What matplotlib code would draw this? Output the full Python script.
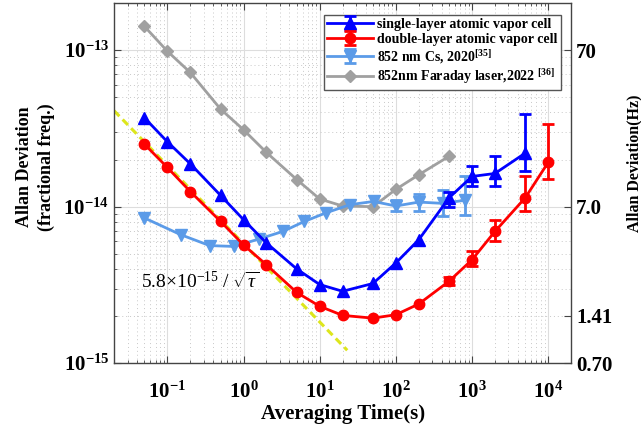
import numpy as np
import matplotlib
matplotlib.use("Agg")
import matplotlib.pyplot as plt
from matplotlib.ticker import LogLocator, NullLocator, NullFormatter

plt.rcParams['font.family'] = ['Liberation Serif', 'DejaVu Serif']
plt.rcParams['mathtext.fontset'] = 'custom'
plt.rcParams['mathtext.rm'] = 'Liberation Serif'
plt.rcParams['mathtext.it'] = 'Liberation Serif:italic'
plt.rcParams['mathtext.bf'] = 'Liberation Serif:bold'

# single-layer atomic vapor cell
tau_single = [0.05, 0.1, 0.2, 0.5, 1, 2, 5, 10, 20, 50, 100, 200, 500, 1000, 2000, 5000]
adev_single = [3.7e-14, 2.6e-14, 1.88e-14, 1.18e-14, 8.26e-15, 5.86e-15, 4.0e-15, 3.18e-15,
               2.88e-15, 3.23e-15, 4.37e-15, 6.15e-15, 1.14e-14, 1.56e-14, 1.63e-14, 2.2e-14]
lo_single = [np.nan] * 12 + [1.0e-14, 1.35e-14, 1.36e-14, 1.68e-14]
hi_single = [np.nan] * 12 + [1.25e-14, 1.82e-14, 2.12e-14, 3.9e-14]

# double-layer atomic vapor cell
tau_double = [0.05, 0.1, 0.2, 0.5, 1, 2, 5, 10, 20, 50, 100, 200, 500, 1000, 2000, 5000, 10000]
adev_double = [2.51e-14, 1.78e-14, 1.25e-14, 8.05e-15, 5.7e-15, 4.25e-15, 2.83e-15, 2.31e-15,
               2.02e-15, 1.94e-15, 2.04e-15, 2.39e-15, 3.34e-15, 4.58e-15, 6.95e-15, 1.14e-14, 1.92e-14]
lo_double = [np.nan] * 12 + [3.15e-15, 4.16e-15, 6.0e-15, 9.33e-15, 1.5e-14]
hi_double = [np.nan] * 12 + [3.55e-15, 5.18e-15, 8.26e-15, 1.58e-14, 3.37e-14]

# 852 nm Cs, 2020
tau_cs = [0.05, 0.15, 0.36, 0.76, 1.6, 3.3, 6.3, 12, 25, 51, 100, 200, 410, 820]
adev_cs = [8.47e-15, 6.62e-15, 5.64e-15, 5.57e-15, 6.22e-15, 6.95e-15, 8.05e-15, 9.12e-15,
           1.03e-14, 1.08e-14, 1.01e-14, 1.07e-14, 1.05e-14, 1.1e-14]
lo_cs = [np.nan] * 10 + [9.42e-15, 9.33e-15, 8.76e-15, 8.9e-15]
hi_cs = [np.nan] * 10 + [1.11e-14, 1.21e-14, 1.28e-14, 1.56e-14]

# 852nm Faraday laser, 2022
tau_far = [0.05, 0.1, 0.2, 0.5, 1, 2, 5, 10, 20, 50, 100, 200, 500]
adev_far = [1.42e-13, 9.85e-14, 7.2e-14, 4.2e-14, 3.1e-14, 2.22e-14, 1.49e-14, 1.12e-14,
            1.01e-14, 1.0e-14, 1.29e-14, 1.6e-14, 2.1e-14]

# white-noise guide line 5.8e-15/sqrt(tau)
tau_fit = [0.02, 23]
fit_coef = 5.8e-15

hz_scale = 7e14  # fractional -> Hz


def yerr(y, lo, hi):
    y = np.array(y)
    return [y - np.array(lo), np.array(hi) - y]


fig = plt.figure(figsize=(6.41, 4.36), dpi=100)
ax = fig.add_axes([0.178, 0.167, 0.713, 0.826])

tf = np.array(tau_fit)
ax.plot(tf, fit_coef / np.sqrt(tf), ls=(0, (2.5, 1.5)), color='#dde61c', lw=2.2, zorder=2)

h1 = ax.errorbar(tau_single, adev_single, yerr=yerr(adev_single, lo_single, hi_single),
                 color='#0000ff', marker='^', ms=8, lw=2, capsize=4, capthick=2, elinewidth=2,
                 label='single-layer atomic vapor cell', zorder=4)
h2 = ax.errorbar(tau_double, adev_double, yerr=yerr(adev_double, lo_double, hi_double),
                 color='#ff0000', marker='o', ms=7.5, lw=2, capsize=4, capthick=2, elinewidth=2,
                 label='double-layer atomic vapor cell', zorder=4)
h3 = ax.errorbar(tau_cs, adev_cs, yerr=yerr(adev_cs, lo_cs, hi_cs),
                 color='#5b9be8', marker='v', ms=8, lw=2, capsize=4, capthick=2, elinewidth=2,
                 label=r'852 nm Cs, 2020$^{\mathbf{[35]}}$', zorder=3)
h4, = ax.plot(tau_far, adev_far, color='#a0a0a0', marker='D', ms=6.5, lw=2,
              label=r'852nm Faraday laser,2022 $^{\mathbf{[36]}}$', zorder=3)

ax.set_xscale('log')
ax.set_yscale('log')
ax.set_xlim(0.02, 2e4)
ax.set_ylim(1e-15, 2e-13)

ax.set_xticks([1e-1, 1e0, 1e1, 1e2, 1e3, 1e4])
ax.set_xticklabels([r'$\mathbf{10^{%d}}$' % e for e in range(-1, 5)])
ax.set_yticks([1e-15, 1e-14, 1e-13])
ax.set_yticklabels([r'$\mathbf{10^{%d}}$' % e for e in (-15, -14, -13)])
ax.xaxis.set_minor_locator(LogLocator(base=10, subs=np.arange(2, 10), numticks=20))
ax.yaxis.set_minor_locator(LogLocator(base=10, subs=np.arange(2, 10), numticks=20))
ax.xaxis.set_minor_formatter(NullFormatter())
ax.yaxis.set_minor_formatter(NullFormatter())
ax.tick_params(which='both', direction='in', top=True, right=True, labelsize=15,
               color='#444444')
ax.tick_params(which='major', length=5, width=0.8)
ax.tick_params(which='minor', length=2.5, width=0.6)
ax.tick_params(axis='x', pad=13)

ax.grid(which='major', color='#dddddd', lw=0.8, ls='-')
ax.grid(which='minor', color='#c8c8c8', lw=0.7, ls=(0, (1, 3)))
ax.set_axisbelow(True)
for sp in ax.spines.values():
    sp.set_color('#444444')
    sp.set_linewidth(1)

ax.set_xlabel('Averaging Time(s)', fontsize=15, fontweight='bold', labelpad=1)
ax.set_ylabel('Allan Deviation\n(fractional freq.)', fontsize=13, fontweight='bold',
              linespacing=1.35)
ax.yaxis.set_label_coords(-0.13, 0.545)

ax.text(0.045, 3.3e-15, r'$5.8{\times}10^{-15}$ / $\sqrt{\tau}$', fontsize=14,
        va='center', ha='left', zorder=5)

leg = ax.legend(handles=[h1, h2, h3, h4], loc='upper right', bbox_to_anchor=(0.984, 0.975),
                fancybox=False, framealpha=1, edgecolor='#555555', handlelength=3.3,
                prop={'weight': 'bold', 'size': 10}, borderpad=0.25, labelspacing=0.12,
                handletextpad=0.3, borderaxespad=0.2)
leg.get_frame().set_linewidth(1)

ax2 = ax.twinx()
ax2.set_yscale('log')
ax2.set_ylim(1e-15 * hz_scale, 2e-13 * hz_scale)
ax2.set_yticks([0.7, 1.41, 7.0, 70])
ax2.set_yticklabels(['0.70', '1.41', '7.0', '70'], fontweight='bold')
ax2.yaxis.set_minor_locator(NullLocator())
ax2.tick_params(which='both', direction='in', labelsize=15, length=5, color='#444444')
ax2.set_ylabel('Allan Deviation(Hz)', fontsize=11.5, fontweight='bold')
ax2.yaxis.set_label_coords(1.12, 0.555)
for sp in ax2.spines.values():
    sp.set_visible(False)

fig.savefig('out.png', dpi=100)
